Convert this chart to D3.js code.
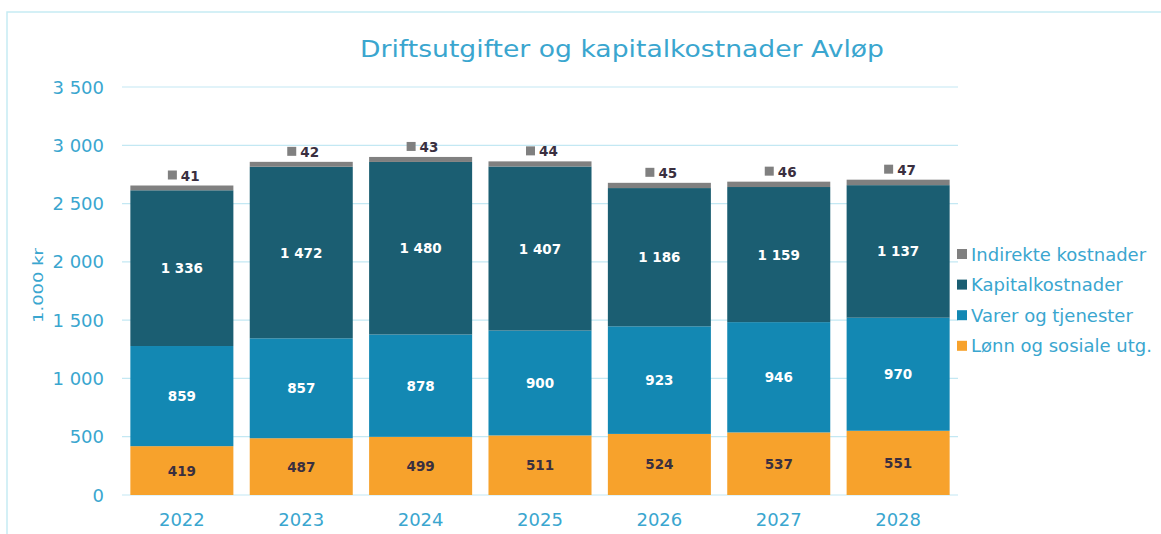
<!DOCTYPE html>
<html>
<head>
<meta charset="utf-8">
<script src="https://cdn.jsdelivr.net/npm/d3@7"></script>
<style>
  body { margin: 0; background: #fff; }
  text { font-family: "DejaVu Sans", Verdana, sans-serif; }
</style>
</head>
<body>
<script>
const years = ['2022', '2023', '2024', '2025', '2026', '2027', '2028'];
const lonn = [419, 487, 499, 511, 524, 537, 551];
const varer = [859, 857, 878, 900, 923, 946, 970];
const kapital = [1336, 1472, 1480, 1407, 1186, 1159, 1137];
const indirekte = [41, 42, 43, 44, 45, 46, 47];
const yTicks = [0, 500, 1000, 1500, 2000, 2500, 3000, 3500];

const seriesNames = ['Lønn og sosiale utg.', 'Varer og tjenester', 'Kapitalkostnader', 'Indirekte kostnader'];
const colors = ['#f7a22c', '#1388b3', '#1b5e72', '#808080'];
const labelColors = ['#3a2f3f', '#ffffff', '#ffffff', '#3a2f3f'];

const w = 1161, h = 534;
const axisColor = '#3aa6cf';

const rows = years.map((y, i) => ({
  year: y, lonn: lonn[i], varer: varer[i], kapital: kapital[i], indirekte: indirekte[i]
}));
const keys = ['lonn', 'varer', 'kapital', 'indirekte'];
const stacked = d3.stack().keys(keys)(rows);

const x = d3.scaleBand().domain(years).range([122, 958]).paddingInner(0.137).paddingOuter(0.07);
const y = d3.scaleLinear().domain([0, 3500]).range([495, 87]);

const svg = d3.select('body').append('svg')
  .attr('width', w).attr('height', h);

// chart frame
svg.append('path')
  .attr('d', `M7,${h} L7,12 L${w},12`)
  .attr('fill', 'none').attr('stroke', '#c6ebf4').attr('stroke-width', 1.5);

// title (the source is a bit wide, so stretch it)
svg.append('text')
  .attr('x', 360).attr('y', 57)
  .attr('font-size', 22.5)
  .attr('fill', axisColor)
  .attr('textLength', 524)
  .attr('lengthAdjust', 'spacingAndGlyphs')
  .text('Driftsutgifter og kapitalkostnader Avløp');

// gridlines
svg.selectAll('line.grid')
  .data(yTicks)
  .enter().append('line')
    .attr('class', 'grid')
    .attr('x1', 122).attr('x2', 958)
    .attr('y1', d => y(d)).attr('y2', d => y(d))
    .attr('stroke', '#c3e8f3').attr('stroke-width', 1.2);

// y tick labels
svg.selectAll('text.ytick')
  .data(yTicks)
  .enter().append('text')
    .attr('class', 'ytick')
    .attr('x', 104).attr('y', d => y(d) + 6.5)
    .attr('text-anchor', 'end')
    .attr('font-size', 18)
    .attr('fill', axisColor)
    .text(d => d3.format(',')(d).replace(/,/g, ' '));

// y axis title
svg.append('text')
  .attr('transform', 'translate(43,323) rotate(-90)')
  .attr('font-size', 13.5)
  .attr('fill', axisColor)
  .attr('textLength', 75)
  .attr('lengthAdjust', 'spacingAndGlyphs')
  .text('1.000 kr');

// bars
const layer = svg.selectAll('g.layer')
  .data(stacked)
  .enter().append('g')
    .attr('class', 'layer')
    .attr('fill', (d, i) => colors[i]);

layer.selectAll('rect')
  .data(d => d)
  .enter().append('rect')
    .attr('x', d => x(d.data.year))
    .attr('width', x.bandwidth())
    .attr('y', d => y(d[1]))
    .attr('height', d => y(d[0]) - y(d[1]));

// segment labels for the first three series
stacked.slice(0, 3).forEach((s, si) => {
  svg.selectAll(`text.lab${si}`)
    .data(s)
    .enter().append('text')
      .attr('class', `lab${si}`)
      .attr('x', d => x(d.data.year) + x.bandwidth() / 2)
      .attr('y', d => (y(d[0]) + y(d[1])) / 2 + 5)
      .attr('text-anchor', 'middle')
      .attr('font-size', 13.5)
      .attr('font-weight', 'bold')
      .attr('fill', labelColors[si])
      .text(d => d3.format(',')(d[1] - d[0]).replace(/,/g, ' '));
});

// indirekte labels above the bars, with legend key
const topSeries = stacked[3];
const topLab = svg.selectAll('g.toplab')
  .data(topSeries)
  .enter().append('g')
    .attr('class', 'toplab')
    .attr('transform', d => `translate(${x(d.data.year) + x.bandwidth() / 2},${y(d[1]) - 10})`);
topLab.append('rect')
  .attr('x', -14).attr('y', -5).attr('width', 9).attr('height', 9)
  .attr('fill', colors[3]);
topLab.append('text')
  .attr('x', -1).attr('y', 5)
  .attr('font-size', 13.5)
  .attr('font-weight', 'bold')
  .attr('fill', labelColors[3])
  .text(d => d[1] - d[0]);

// x labels
svg.selectAll('text.xlab')
  .data(years)
  .enter().append('text')
    .attr('class', 'xlab')
    .attr('x', d => x(d) + x.bandwidth() / 2)
    .attr('y', 526)
    .attr('text-anchor', 'middle')
    .attr('font-size', 18)
    .attr('fill', axisColor)
    .text(d => d);

// legend (reverse order, top = Indirekte)
const legendItems = seriesNames.map((n, i) => ({ name: n, color: colors[i] })).reverse();
const legend = svg.selectAll('g.legend')
  .data(legendItems)
  .enter().append('g')
    .attr('class', 'legend')
    .attr('transform', (d, i) => `translate(957,${254 + i * 30.6})`);
legend.append('rect')
  .attr('x', 0).attr('y', -5).attr('width', 10).attr('height', 10)
  .attr('fill', d => d.color);
legend.append('text')
  .attr('x', 14).attr('y', 6.5)
  .attr('font-size', 18)
  .attr('fill', axisColor)
  .text(d => d.name);
</script>
</body>
</html>
